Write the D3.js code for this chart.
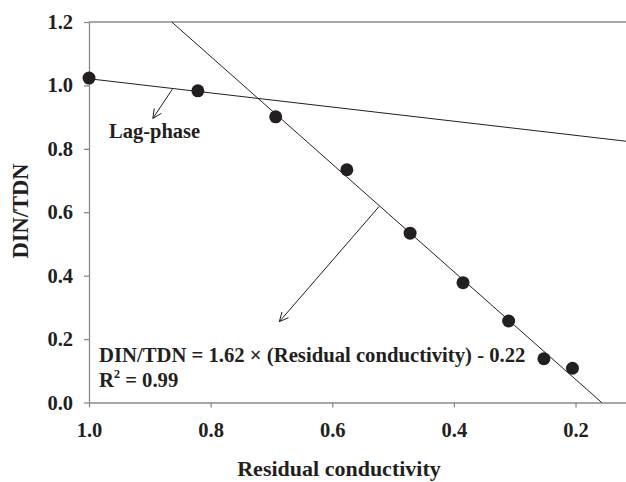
<!DOCTYPE html>
<html lang="en">
<head>
    <meta charset="UTF-8">
    <script src="https://d3js.org/d3.v7.min.js"></script>
    <title>DIN/TDN vs residual conductivity</title>
    <style>
        html,
        body {
            margin: 0px;
            padding: 0px;
            background-color: #ffffff;
        }
        svg text {
            font-family: "Liberation Serif", "Times New Roman", serif;
            font-weight: bold;
            fill: #231f20;
        }
    </style>
</head>
<body>
    <div id='chart'></div>

    <script>

        // points
        let conductivity = [1.0, 0.821, 0.693, 0.576, 0.472, 0.385, 0.310, 0.252, 0.205];
        let din_tdn = [1.023, 0.983, 0.901, 0.734, 0.534, 0.378, 0.257, 0.138, 0.108];

        // fitted lines (end points in data units)
        let lag_line = [[1.0, 1.021], [0.117, 0.824]];
        let fit_line = [[0.864, 1.2], [0.157, 0.0]];

        // annotation arrows: [from, to]
        let lag_arrow = [[0.863, 0.988], [0.895, 0.896]];
        let fit_arrow = [[0.523, 0.618], [0.687, 0.255]];

        let x_ticks = [1.0, 0.8, 0.6, 0.4, 0.2];
        let y_ticks = [0.0, 0.2, 0.4, 0.6, 0.8, 1.0, 1.2];

        let width = 626;
        let height = 482;

        let margin = {
            top: 22,
            bottom: 79.5,
            left: 89,
            right: 0
        }

        let svg = d3.select('#chart').append('svg').attr('width', width).attr('height', height);

        let x = d3.scaleLinear().domain([1.0, 0.117]).range([margin.left, width - margin.right]);
        let y = d3.scaleLinear().domain([0, 1.2]).range([height - margin.bottom, margin.top]);

        let axis_colour = '#8a8a8a';
        let ink = '#231f20';

        // x axis
        let x_axis = svg.append('g')
            .attr('transform', `translate(0,${y(0)})`)
            .call(d3.axisBottom(x).tickValues(x_ticks).tickFormat(d3.format('.1f')).tickSize(5).tickPadding(15).tickSizeOuter(0));
        x_axis.selectAll('text').attr('font-size', 20.5).attr('dy', '0.71em');

        // y axis
        let y_axis = svg.append('g')
            .attr('transform', `translate(${x(1.0)},0)`)
            .call(d3.axisLeft(y).tickValues(y_ticks).tickFormat(d3.format('.1f')).tickSize(5).tickPadding(11).tickSizeOuter(0));
        y_axis.selectAll('text').attr('font-size', 20.5);

        svg.selectAll('.domain, .tick line').attr('stroke', axis_colour).attr('stroke-width', 1.3);

        // top frame line
        svg.append('line')
            .attr('x1', x(1.0)).attr('x2', width)
            .attr('y1', y(1.2)).attr('y2', y(1.2))
            .attr('stroke', axis_colour)
            .attr('stroke-width', 1.3);

        // axis titles
        svg.append('text')
            .attr('x', 339)
            .attr('y', 476)
            .attr('text-anchor', 'middle')
            .attr('font-size', 22)
            .text('Residual conductivity');

        svg.append('text')
            .attr('transform', `translate(28,211) rotate(-90)`)
            .attr('text-anchor', 'middle')
            .attr('font-size', 22.5)
            .text('DIN/TDN');

        let plot = svg.append('g');

        let line = d3.line().x(d => x(d[0])).y(d => y(d[1]));

        plot.append('path').attr('d', line(lag_line)).attr('stroke', ink).attr('stroke-width', 1).attr('fill', 'none');
        plot.append('path').attr('d', line(fit_line)).attr('stroke', ink).attr('stroke-width', 1).attr('fill', 'none');

        // open arrow heads
        let draw_arrow = function(arrow) {
            let [p0, p1] = arrow.map(p => [x(p[0]), y(p[1])]);
            plot.append('line')
                .attr('x1', p0[0]).attr('y1', p0[1])
                .attr('x2', p1[0]).attr('y2', p1[1])
                .attr('stroke', ink).attr('stroke-width', 1);
            let ang = Math.atan2(p1[1] - p0[1], p1[0] - p0[0]);
            let len = 10, spread = 0.45;
            let head = [
                [p1[0] - len * Math.cos(ang - spread), p1[1] - len * Math.sin(ang - spread)],
                p1,
                [p1[0] - len * Math.cos(ang + spread), p1[1] - len * Math.sin(ang + spread)]
            ];
            plot.append('path')
                .attr('d', d3.line()(head))
                .attr('stroke', ink).attr('stroke-width', 1).attr('fill', 'none');
        }
        draw_arrow(lag_arrow);
        draw_arrow(fit_arrow);

        plot.selectAll('circle')
            .data(conductivity)
            .join('circle')
            .attr('cx', d => x(d))
            .attr('cy', (d, i) => y(din_tdn[i]))
            .attr('r', 6.5)
            .attr('fill', ink);

        // annotations
        svg.append('text')
            .attr('x', 109).attr('y', 138)
            .attr('font-size', 20.5)
            .text('Lag-phase');

        svg.append('text')
            .attr('x', 99).attr('y', 361.7)
            .attr('font-size', 20.7)
            .text('DIN/TDN = 1.62 \u00d7 (Residual conductivity) - 0.22');

        let r2 = svg.append('text')
            .attr('x', 99).attr('y', 387)
            .attr('font-size', 20.7);
        r2.append('tspan').text('R');
        r2.append('tspan').attr('font-size', 12).attr('dy', -9).text('2');
        r2.append('tspan').attr('dy', 9).text(' = 0.99');

    </script>
    
</body>
</html>
